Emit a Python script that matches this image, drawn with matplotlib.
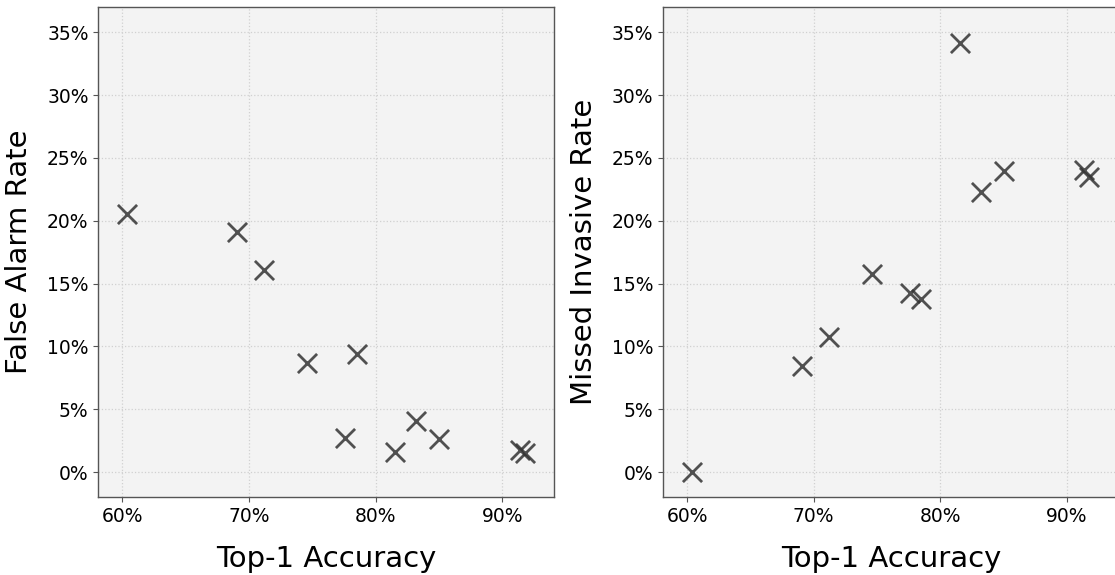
import matplotlib
matplotlib.use("Agg")
import matplotlib.pyplot as plt
from matplotlib.ticker import FuncFormatter, MultipleLocator

# top-1 accuracy of each model (%), same for both panels
accuracy = [60.4, 69.05, 71.2, 74.6, 77.6, 78.5, 81.55, 83.2, 85.0, 91.35, 91.75]
# false alarm rate (%)
false_alarm = [20.5, 19.1, 16.1, 8.7, 2.7, 9.4, 1.6, 4.1, 2.6, 1.8, 1.5]
# missed invasive rate (%)
missed_invasive = [0.0, 8.45, 10.75, 15.8, 14.25, 13.8, 34.15, 22.3, 23.95, 24.0, 23.45]

fig = plt.figure(figsize=(11.15, 5.75), dpi=100)
ax1 = fig.add_axes([0.0882, 0.1351, 0.409, 0.8527])
ax2 = fig.add_axes([0.5946, 0.1351, 0.409, 0.8527])

pct = FuncFormatter(lambda v, p: "%d%%" % round(v))

for ax, vals, label in [(ax1, false_alarm, "False Alarm Rate"),
                        (ax2, missed_invasive, "Missed Invasive Rate")]:
    ax.set_facecolor("#f3f3f3")
    ax.scatter(accuracy, vals, marker="x", s=190, color="#333333",
               linewidths=2.0, alpha=0.85, zorder=3)
    ax.set_xlim(58.1, 94.1)
    ax.set_ylim(-2, 37)
    ax.xaxis.set_major_locator(MultipleLocator(10))
    ax.yaxis.set_major_locator(MultipleLocator(5))
    ax.xaxis.set_major_formatter(pct)
    ax.yaxis.set_major_formatter(pct)
    ax.grid(True, color="#d0d0d0", linestyle=":", linewidth=0.9, zorder=0)
    ax.set_axisbelow(True)
    for s in ax.spines.values():
        s.set_color("#555555")
        s.set_linewidth(1.0)
    ax.tick_params(labelsize=13.5, color="#555555")
    ax.set_xlabel("Top-1 Accuracy", fontsize=21, labelpad=14)
    ax.set_ylabel(label, fontsize=21, labelpad=10)

fig.savefig("out.png", dpi=100)
